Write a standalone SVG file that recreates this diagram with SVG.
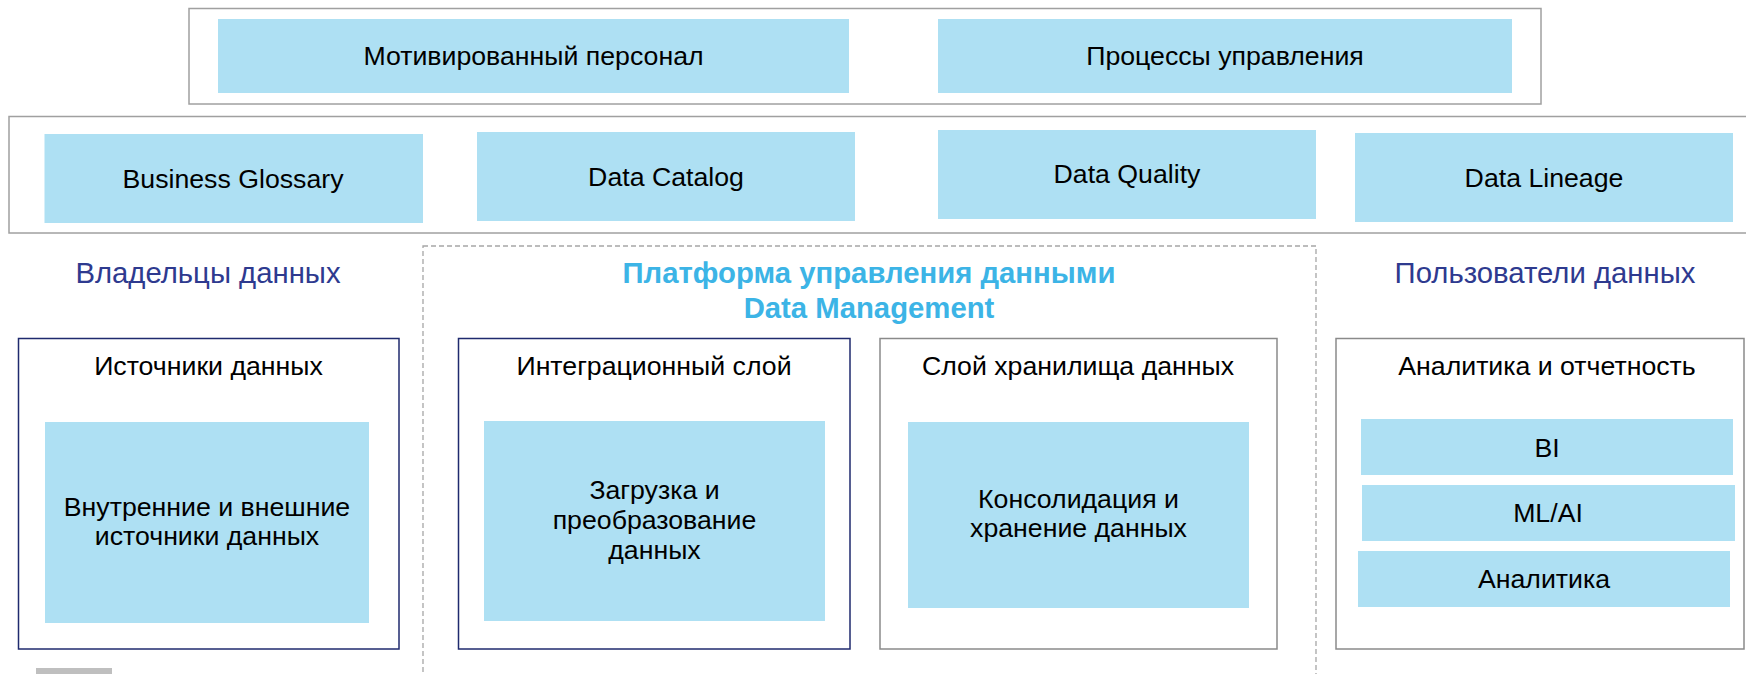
<svg xmlns="http://www.w3.org/2000/svg" width="1746" height="674" viewBox="0 0 1746 674">
<style>
.fill{fill:#aee0f3;stroke:none}
.outer{fill:#ffffff;stroke:#a0a0a0;stroke-width:1.5}
.navy{fill:#ffffff;stroke:#1f2a6e;stroke-width:1.5}
.gray{fill:#ffffff;stroke:#8a8a8a;stroke-width:1.5}
.dash{fill:none;stroke:#a6a6a6;stroke-width:1.3;stroke-dasharray:5,3}
text{font-family:"Liberation Sans",Arial,sans-serif;text-anchor:middle}
.t{font-size:26.7px;fill:#000000}
.h{font-size:29.3px;fill:#2e3a8f}
.ttl{font-size:29.3px;font-weight:bold;fill:#3cb4e6}
</style>
<rect width="1746" height="674" fill="#ffffff"/>

<g id="mgmt-frame">
<rect class="outer" x="189" y="8.5" width="1352" height="95.5"/>
</g>
<g id="motivated-staff">
<rect class="fill" x="218" y="19" width="631" height="74"/>
<text class="t" x="533.5" y="65">Мотивированный персонал</text>
</g>
<g id="mgmt-processes">
<rect class="fill" x="938" y="19" width="574" height="74"/>
<text class="t" x="1225" y="65">Процессы управления</text>
</g>

<g id="tools-frame">
<rect class="outer" x="9" y="116.5" width="1745" height="116.5"/>
</g>
<g id="business-glossary">
<rect class="fill" x="44.5" y="134" width="378.5" height="89"/>
<text class="t" x="233" y="188">Business Glossary</text>
</g>
<g id="data-catalog">
<rect class="fill" x="477" y="132" width="378" height="89"/>
<text class="t" x="666" y="186">Data Catalog</text>
</g>
<g id="data-quality">
<rect class="fill" x="938" y="130" width="378" height="89"/>
<text class="t" x="1127" y="183">Data Quality</text>
</g>
<g id="data-lineage">
<rect class="fill" x="1355" y="133" width="378" height="89"/>
<text class="t" x="1544" y="187">Data Lineage</text>
</g>

<g id="platform">
<rect class="dash" x="423" y="246" width="893" height="440"/>
<text class="ttl" x="869" y="283">Платформа управления данными</text>
<text class="ttl" x="869" y="318">Data Management</text>
</g>

<g id="owners-label">
<text class="h" x="208" y="283">Владельцы данных</text>
</g>
<g id="users-label">
<text class="h" x="1545" y="283">Пользователи данных</text>
</g>

<g id="data-sources">
<rect class="navy" x="18.5" y="338.5" width="380.5" height="310.5"/>
<text class="t" x="208.5" y="375">Источники данных</text>
<rect class="fill" x="45" y="422" width="324" height="201"/>
<text class="t" x="207" y="516">Внутренние и внешние</text>
<text class="t" x="207" y="545">источники данных</text>
</g>

<g id="integration-layer">
<rect class="navy" x="458.5" y="338.5" width="391.5" height="310.5"/>
<text class="t" x="654" y="375">Интеграционный слой</text>
<rect class="fill" x="484" y="421" width="341" height="200"/>
<text class="t" x="654.5" y="499">Загрузка и</text>
<text class="t" x="654.5" y="529">преобразование</text>
<text class="t" x="654.5" y="559">данных</text>
</g>

<g id="storage-layer">
<rect class="gray" x="880" y="338.5" width="397" height="310.5"/>
<text class="t" x="1078" y="375">Слой хранилища данных</text>
<rect class="fill" x="908" y="422" width="341" height="186"/>
<text class="t" x="1078.5" y="508">Консолидация и</text>
<text class="t" x="1078.5" y="537">хранение данных</text>
</g>

<g id="analytics-reporting">
<rect class="gray" x="1336" y="338.5" width="408" height="310.5"/>
<text class="t" x="1547" y="375">Аналитика и отчетность</text>
</g>
<g id="bi">
<rect class="fill" x="1361" y="419" width="372" height="56"/>
<text class="t" x="1547" y="457">BI</text>
</g>
<g id="ml-ai">
<rect class="fill" x="1362" y="485" width="373" height="56"/>
<text class="t" x="1548" y="522">ML/AI</text>
</g>
<g id="analytics">
<rect class="fill" x="1358" y="551" width="372" height="56"/>
<text class="t" x="1544" y="588">Аналитика</text>
</g>

<g id="footer-mark">
<rect x="36" y="668" width="76" height="6" fill="#bfbfbf"/>
</g>

<g id="connectors"></g>
</svg>
